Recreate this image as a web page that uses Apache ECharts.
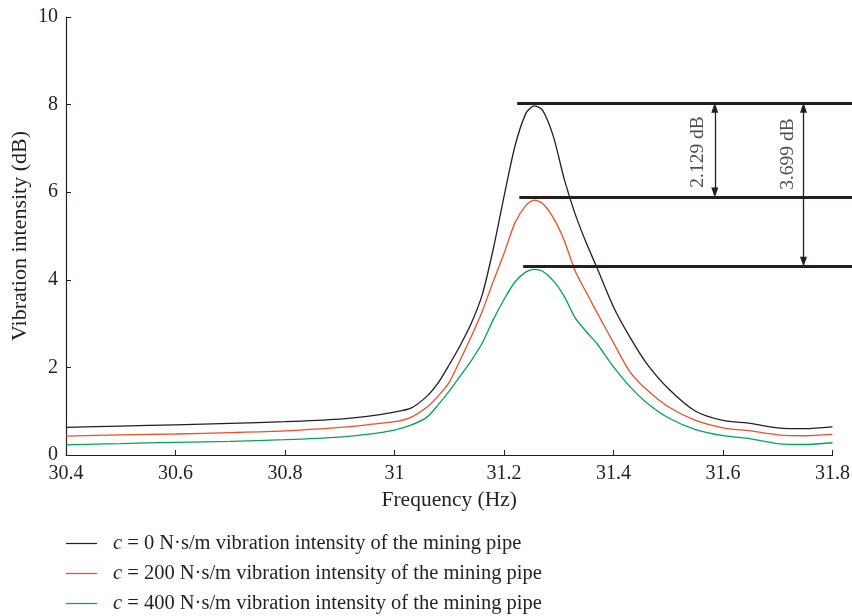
<!DOCTYPE html>
<html>
<head>
<meta charset="utf-8">
<script src="https://cdn.jsdelivr.net/npm/echarts@6/dist/echarts.min.js"></script>
<style>
html,body{margin:0;padding:0;background:#fff;}
#chart{width:852px;height:616px;}
</style>
</head>
<body>
<div id="chart"></div>
<script>
// ---- data ----
const freq = [30.4, 30.5, 30.6, 30.7, 30.8, 30.9, 30.95, 31.0, 31.03, 31.06, 31.08, 31.1, 31.12, 31.14, 31.16, 31.18, 31.2, 31.22, 31.24, 31.255, 31.27, 31.29, 31.31, 31.33, 31.35, 31.37, 31.4, 31.43, 31.46, 31.5, 31.55, 31.6, 31.65, 31.7, 31.75, 31.8];
const c0   = [0.63, 0.66, 0.69, 0.72, 0.76, 0.82, 0.88, 0.98, 1.07, 1.35, 1.65, 2.06, 2.50, 3.00, 3.65, 4.68, 5.90, 7.05, 7.80, 7.97, 7.88, 7.28, 6.30, 5.50, 4.85, 4.27, 3.38, 2.69, 2.10, 1.52, 1.00, 0.79, 0.72, 0.62, 0.60, 0.64];
const c200 = [0.43, 0.46, 0.48, 0.51, 0.55, 0.63, 0.69, 0.76, 0.86, 1.10, 1.35, 1.66, 2.17, 2.70, 3.27, 3.95, 4.60, 5.30, 5.70, 5.82, 5.75, 5.42, 4.90, 4.20, 3.72, 3.25, 2.56, 1.90, 1.50, 1.10, 0.79, 0.62, 0.55, 0.46, 0.44, 0.47];
const c400 = [0.23, 0.26, 0.29, 0.31, 0.35, 0.41, 0.47, 0.57, 0.68, 0.87, 1.15, 1.46, 1.80, 2.15, 2.55, 3.08, 3.55, 3.95, 4.18, 4.24, 4.20, 3.98, 3.62, 3.13, 2.82, 2.54, 2.01, 1.56, 1.20, 0.85, 0.58, 0.44, 0.37, 0.26, 0.24, 0.28];
const seriesNames = [
  'c = 0 N·s/m vibration intensity of the mining pipe',
  'c = 200 N·s/m vibration intensity of the mining pipe',
  'c = 400 N·s/m vibration intensity of the mining pipe'
];
const xTicks = [30.4, 31.8, 0.2];   // min, max, interval
const yTicks = [0, 10, 2];
// peak reference levels (dB) and where each reference line starts (Hz)
const refLevels = [8.04, 5.88, 4.30];
const refStarts = [31.224, 31.228, 31.235];
const refEnd = 31.8356;
// dimension arrows: x position, from level, to level, label
const arrowX = [31.585, 31.747];
const arrowFrom = [8.04, 8.04];
const arrowTo = [5.88, 4.30];
const arrowLabels = ['2.129 dB', '3.699 dB'];
const arrowLabelX = [31.554, 31.718];
const arrowLabelY = [6.92, 6.87];

// ---- chart ----
const FONT = 'Liberation Serif';
const TXT = '#231f20';
const colors = ['#231f20', '#f04e23', '#00a651'];
const pair = (xs, ys) => xs.map((x, i) => [x, ys[i]]);

const chart = echarts.init(document.getElementById('chart'), null, {renderer: 'canvas'});
const arrowPx = 10 / 43.8 / 2; // half arrowhead height in value units (tip sits at the line)

const option = {
  animation: false,
  backgroundColor: '#fff',
  textStyle: {fontFamily: FONT, color: TXT},
  grid: [
    {left: 66, right: 19.5, top: 17, bottom: 161, containLabel: false, outerBoundsMode: 'none'},
    {left: 66, right: 0, top: 17, bottom: 161, containLabel: false, outerBoundsMode: 'none'}
  ],
  xAxis: [{
    type: 'value', gridIndex: 0,
    min: xTicks[0], max: xTicks[1], interval: xTicks[2],
    name: 'Frequency (Hz)', nameLocation: 'middle', nameGap: 33,
    nameTextStyle: {fontFamily: FONT, fontSize: 21.5, color: TXT},
    axisLine: {show: true, lineStyle: {color: TXT, width: 1.2}},
    axisTick: {show: true, inside: true, length: 5, lineStyle: {color: TXT}},
    axisLabel: {fontFamily: FONT, fontSize: 20, color: TXT, margin: 9},
    splitLine: {show: false}
  }, {
    type: 'value', gridIndex: 1, min: xTicks[0], max: refEnd, show: false
  }],
  yAxis: [{
    type: 'value', gridIndex: 0,
    min: yTicks[0], max: yTicks[1], interval: yTicks[2],
    name: 'Vibration intensity (dB)', nameLocation: 'middle', nameGap: 35,
    nameRotate: 90, nameMoveOverlap: false,
    nameTextStyle: {fontFamily: FONT, fontSize: 22, color: TXT},
    axisLine: {show: true, lineStyle: {color: TXT, width: 1.2}},
    axisTick: {show: true, inside: true, length: 5, lineStyle: {color: TXT}},
    axisLabel: {fontFamily: FONT, fontSize: 20, color: TXT, margin: 8},
    splitLine: {show: false}
  }, {
    type: 'value', gridIndex: 1, min: yTicks[0], max: yTicks[1], show: false
  }],
  legend: {
    data: seriesNames,
    orient: 'vertical',
    left: 66, top: 533, height: 90, padding: 0,
    itemWidth: 31, itemHeight: 20, itemGap: 9,
    icon: 'path://M0,0L100,0L100,4L0,4Z',
    formatter: (n) => n.replace(/^c/, '{i|c}'),
    textStyle: {
      fontFamily: FONT, fontSize: 20.5, color: TXT, padding: [0, 0, 0, 11],
      rich: {i: {fontFamily: FONT, fontSize: 20.5, fontStyle: 'italic', color: TXT}}
    }
  },
  series: [
    ...[c0, c200, c400].map((vals, i) => ({
      name: seriesNames[i], type: 'line', xAxisIndex: 0, yAxisIndex: 0,
      data: pair(freq, vals), symbol: 'none', smooth: 0.25,
      lineStyle: {color: colors[i], width: 1.3}, itemStyle: {color: colors[i]}
    })),
    {
      name: 'refLines', type: 'line', xAxisIndex: 1, yAxisIndex: 1, data: [], clip: false,
      markLine: {
        silent: true, symbol: ['none', 'none'], label: {show: false},
        lineStyle: {color: '#231f20', width: 3, type: 'solid'},
        data: refLevels.map((lv, i) => [{coord: [refStarts[i], lv]}, {coord: [refEnd, lv]}])
      }
    },
    {
      name: 'arrows', type: 'line', xAxisIndex: 1, yAxisIndex: 1, data: [], clip: false,
      markLine: {
        silent: true, symbol: ['triangle', 'triangle'], symbolSize: [7, 10],
        label: {show: false},
        lineStyle: {color: '#231f20', width: 1.3, type: 'solid'},
        data: arrowX.map((x, i) => [
          {coord: [x, arrowFrom[i] - arrowPx]},
          {coord: [x, arrowTo[i] + arrowPx]}
        ])
      }
    },
    {
      name: 'arrowText', type: 'scatter', xAxisIndex: 1, yAxisIndex: 1,
      symbolSize: 0, silent: true, itemStyle: {color: TXT},
      data: arrowLabels.map((t, i) => ({name: t, value: [arrowLabelX[i], arrowLabelY[i]]})),
      label: {
        show: true, position: 'inside', rotate: 90, formatter: '{b}',
        fontFamily: FONT, fontSize: 19.5, color: TXT, textBorderWidth: 0
      }
    }
  ]
};
chart.setOption(option);
</script>
</body>
</html>
